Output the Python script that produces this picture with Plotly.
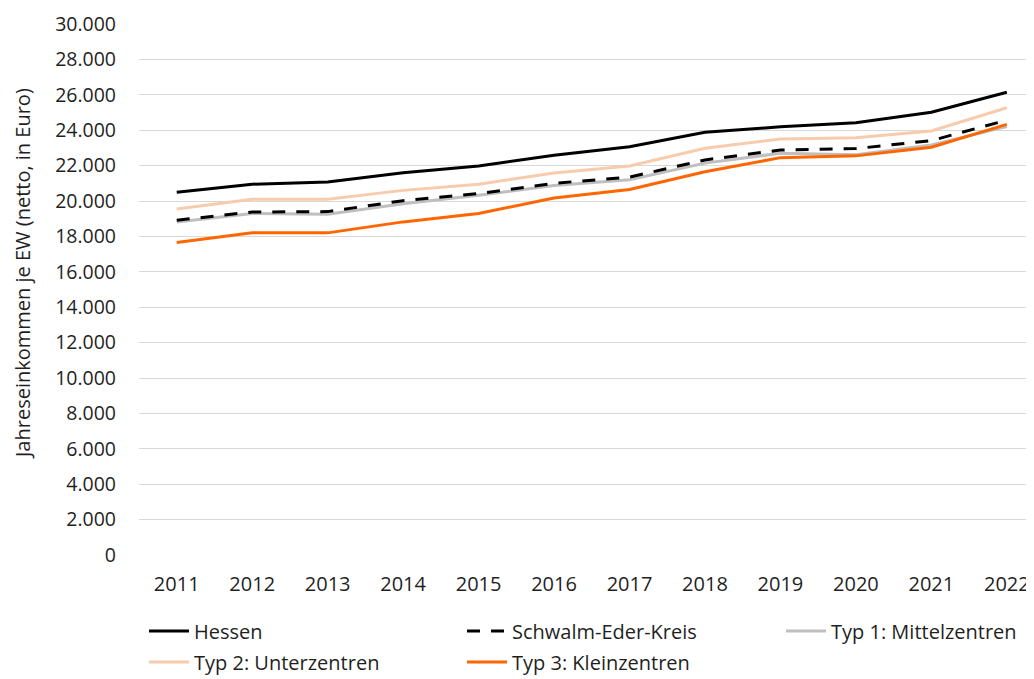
import plotly.graph_objects as go

years = ["2011", "2012", "2013", "2014", "2015", "2016", "2017", "2018", "2019", "2020", "2021", "2022"]

hessen = [20500, 20950, 21080, 21600, 21980, 22580, 23070, 23880, 24190, 24420, 25010, 26140]
schwalm_eder = [18910, 19380, 19400, 20020, 20420, 21000, 21350, 22320, 22880, 22960, 23410, 24570]
typ1 = [18820, 19290, 19250, 19850, 20320, 20880, 21200, 22140, 22700, 22620, 23170, 24200]
typ2 = [19550, 20100, 20100, 20600, 20950, 21580, 21980, 22980, 23500, 23580, 23960, 25270]
typ3 = [17660, 18200, 18200, 18820, 19290, 20170, 20650, 21650, 22450, 22550, 23040, 24330]

y_ticks = [0, 2000, 4000, 6000, 8000, 10000, 12000, 14000, 16000, 18000, 20000,
           22000, 24000, 26000, 28000, 30000]

FONT = "Open Sans"
TXT = "#1f1f1f"

# the page body has an 8px margin; the figure is laid out so the visible window matches
W, H = 1026, 671
ML, MT = 131, 16
PLOT_H = 531
MB = H - MT - PLOT_H
PLOT_W = W - ML
plot_bottom = MT + PLOT_H
OFF = 8  # body margin

# legend slots: (window x of symbol start, window y of row centre)
series = [
    ("Hessen", hessen, "#000000", "solid", "legend", (150, 631)),
    ("Schwalm-Eder-Kreis", schwalm_eder, "#000000", "13px,11px", "legend2", (468, 631)),
    ("Typ 1: Mittelzentren", typ1, "#BFBFBF", "solid", "legend3", (787, 631)),
    ("Typ 2: Unterzentren", typ2, "#F8CBAD", "solid", "legend4", (150, 662)),
    ("Typ 3: Kleinzentren", typ3, "#FF6600", "solid", "legend5", (468, 662)),
]

fig = go.Figure()
for i in [2, 3, 4, 1, 0]:
    name, vals, color, dash, leg, _ = series[i]
    fig.add_trace(go.Scatter(
        x=years, y=vals, name=name, mode="lines",
        line=dict(color=color, width=3, dash=dash),
        legend=leg,
    ))

legends = {}
for name, vals, color, dash, leg, (wx, wy) in series:
    fx = wx - 6 - OFF - ML           # legend box starts ~6px before its symbol
    fy = (wy - OFF) - plot_bottom    # pixels below the plot area
    legends[leg] = dict(
        x=fx / PLOT_W, y=-fy / PLOT_H,
        orientation="h", xanchor="left", yanchor="middle",
        font=dict(family=FONT, size=20, color=TXT),
        itemwidth=40, bgcolor="rgba(0,0,0,0)",
    )

fig.update_layout(
    width=W, height=H,
    margin=dict(l=ML, r=0, t=MT, b=MB, autoexpand=False),
    paper_bgcolor="white", plot_bgcolor="white",
    separators=",.",
    font=dict(family=FONT, size=20, color=TXT),
    showlegend=True,
    xaxis=dict(
        type="category", range=[-0.5, 11.36],
        showgrid=False, showline=False, zeroline=False,
        ticks="", ticklabelstandoff=15,
        tickfont=dict(family=FONT, size=20, color=TXT),
    ),
    yaxis=dict(
        range=[0, 30000], tickvals=y_ticks, tickformat=",d",
        showgrid=True, gridcolor="#D9D9D9", gridwidth=1,
        zeroline=False, showline=False, ticks="",
        ticklabelstandoff=22,
        tickfont=dict(family=FONT, size=19.5, color=TXT),
    ),
    annotations=[dict(
        text="Jahreseinkommen je EW (netto, in Euro)",
        xref="paper", yref="paper",
        x=(14 - ML) / PLOT_W, y=(plot_bottom - 266) / PLOT_H,
        xanchor="center", yanchor="middle", textangle=-90, showarrow=False,
        font=dict(family=FONT, size=20, color=TXT),
    )],
    **legends,
)

fig.write_html("out.html")
